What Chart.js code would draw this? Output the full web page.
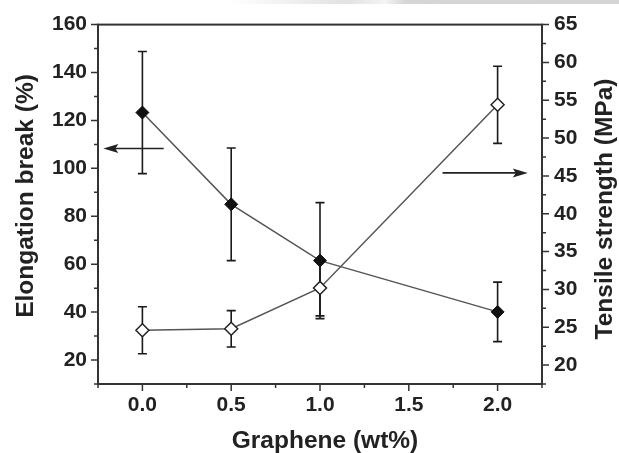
<!DOCTYPE html>
<html>
<head>
<meta charset="utf-8">
<script src="https://cdn.jsdelivr.net/npm/chart.js@4/dist/chart.umd.min.js"></script>
<style>
  body { margin: 0; background: #fff; }
  #wrap { position: relative; width: 619px; height: 453px; }
  #strip { position: absolute; left: 230px; top: 0; width: 389px; height: 4px;
           background: linear-gradient(to right, #fff 0%, #e2e2e2 30%, #f4f4f4 40%, #d6d6d6 45%, #d4d4d4 100%); }
</style>
</head>
<body>
<div id="wrap">
  <div id="strip"></div>
  <canvas id="mechChart"></canvas>
</div>
<script>
// graphene loading (wt%)
const grapheneContent = [0, 0.5, 1.0, 2.0];

// elongation at break (%), left axis
const elongation = [123.3, 85.0, 61.5, 40.1];
const elongationErr = [25.5, 23.5, 24.2, 12.4];

// tensile strength (MPa), right axis
const tensile = [24.6, 24.8, 30.2, 54.4];
const tensileErr = [3.1, 2.4, 3.7, 5.1];

// labelled ticks
const xTickLabels = [0, 0.5, 1.0, 1.5, 2.0];
const elongationTicks = [20, 40, 60, 80, 100, 120, 140, 160];
const tensileTicks = [20, 25, 30, 35, 40, 45, 50, 55, 60, 65];

const INK = '#222';
const FRAME = '#333';
const FAMILY = 'Liberation Sans, Arial, sans-serif';

// error bars drawn under the markers
const errorBarPlugin = {
    id: 'errorBars',
    beforeDatasetsDraw(chart) {
        const ctx = chart.ctx;
        const x = chart.scales.x;
        const sets = [
            { scale: chart.scales.yL, vals: elongation, errs: elongationErr },
            { scale: chart.scales.yR, vals: tensile, errs: tensileErr }
        ];
        ctx.save();
        ctx.strokeStyle = '#1a1a1a';
        ctx.lineWidth = 1.6;
        sets.forEach(s => {
            s.vals.forEach((v, i) => {
                const px = x.getPixelForValue(grapheneContent[i]);
                const top = s.scale.getPixelForValue(v + s.errs[i]);
                const bot = s.scale.getPixelForValue(v - s.errs[i]);
                ctx.beginPath();
                ctx.moveTo(px, top); ctx.lineTo(px, bot);
                ctx.moveTo(px - 4.5, top); ctx.lineTo(px + 4.5, top);
                ctx.moveTo(px - 4.5, bot); ctx.lineTo(px + 4.5, bot);
                ctx.stroke();
            });
        });
        ctx.restore();
    }
};

// frame, outward ticks, axis titles and the two pointer arrows
const framePlugin = {
    id: 'frame',
    afterDraw(chart) {
        const ctx = chart.ctx;
        const a = chart.chartArea;
        const { x, yL, yR } = chart.scales;
        ctx.save();
        ctx.strokeStyle = FRAME;
        ctx.lineWidth = 2;
        ctx.strokeRect(a.left, a.top, a.right - a.left, a.bottom - a.top);

        ctx.lineWidth = 1.5;
        ctx.beginPath();
        x.ticks.forEach(t => {
            const px = x.getPixelForValue(t.value);
            const len = xTickLabels.includes(t.value) ? 7 : 4;
            ctx.moveTo(px, a.bottom); ctx.lineTo(px, a.bottom + len);
        });
        yL.ticks.forEach(t => {
            const py = yL.getPixelForValue(t.value);
            const len = elongationTicks.includes(t.value) ? 7 : 4;
            ctx.moveTo(a.left, py); ctx.lineTo(a.left - len, py);
        });
        yR.ticks.forEach(t => {
            const py = yR.getPixelForValue(t.value);
            const len = tensileTicks.includes(t.value) ? 7 : 4;
            ctx.moveTo(a.right, py); ctx.lineTo(a.right + len, py);
        });
        ctx.stroke();

        drawArrow(ctx, x.getPixelForValue(0.12), x.getPixelForValue(-0.22), yL.getPixelForValue(108.3));
        drawArrow(ctx, x.getPixelForValue(1.69), x.getPixelForValue(2.17), yR.getPixelForValue(45.4));

        // both y titles read bottom-to-top in the original
        ctx.fillStyle = INK;
        ctx.font = 'bold 24.5px ' + FAMILY;
        ctx.textAlign = 'center';
        ctx.textBaseline = 'alphabetic';
        drawVerticalText(ctx, 'Elongation break (%)', 33, 196);
        drawVerticalText(ctx, 'Tensile strength (MPa)', 612, 209);
        ctx.fillText('Graphene (wt%)', 325, 448);
        ctx.restore();
    }
};

function drawVerticalText(ctx, text, x, y) {
    ctx.save();
    ctx.translate(x, y);
    ctx.rotate(-Math.PI / 2);
    ctx.fillText(text, 0, 0);
    ctx.restore();
}

function drawArrow(ctx, fromX, toX, y) {
    const dir = toX > fromX ? 1 : -1;
    ctx.strokeStyle = INK;
    ctx.fillStyle = INK;
    ctx.lineWidth = 1.6;
    ctx.beginPath();
    ctx.moveTo(fromX, y);
    ctx.lineTo(toX - dir * 10, y);
    ctx.stroke();
    ctx.beginPath();
    ctx.moveTo(toX, y);
    ctx.lineTo(toX - dir * 15, y - 4.5);
    ctx.lineTo(toX - dir * 12, y);
    ctx.lineTo(toX - dir * 15, y + 4.5);
    ctx.closePath();
    ctx.fill();
}

function renderMechanicalChart() {
    const ctx = document.getElementById('mechChart').getContext('2d');
    const tickFont = { family: FAMILY, size: 21, weight: 'bold' };
    new Chart(ctx, {
        type: 'line',
        data: {
            datasets: [{
                label: 'Elongation break',
                data: grapheneContent.map((g, i) => ({ x: g, y: elongation[i] })),
                yAxisID: 'yL',
                borderColor: '#555',
                borderWidth: 1.5,
                pointStyle: 'rectRot',
                pointRadius: 6.5,
                pointBackgroundColor: '#111',
                pointBorderColor: '#111',
                pointBorderWidth: 1
            }, {
                label: 'Tensile strength',
                data: grapheneContent.map((g, i) => ({ x: g, y: tensile[i] })),
                yAxisID: 'yR',
                borderColor: '#555',
                borderWidth: 1.5,
                pointStyle: 'rectRot',
                pointRadius: 6.5,
                pointBackgroundColor: '#fff',
                pointBorderColor: '#222',
                pointBorderWidth: 1.5
            }]
        },
        options: {
            responsive: true,
            maintainAspectRatio: false,
            animation: false,
            layout: { padding: { top: 24, left: 0, right: 0, bottom: 0 } },
            plugins: {
                legend: { display: false },
                tooltip: { enabled: false }
            },
            scales: {
                x: {
                    type: 'linear',
                    min: -0.25,
                    max: 2.25,
                    grid: { display: false, drawTicks: false },
                    border: { display: false },
                    afterFit: s => { s.height = 69; },
                    ticks: {
                        stepSize: 0.25,
                        autoSkip: false,
                        maxRotation: 0,
                        padding: 9,
                        color: INK,
                        font: tickFont,
                        callback: v => xTickLabels.includes(v) ? v.toFixed(1) : ''
                    }
                },
                yL: {
                    type: 'linear',
                    position: 'left',
                    min: 10,
                    max: 160,
                    grid: { display: false, drawTicks: false },
                    border: { display: false },
                    afterFit: s => { s.width = 98; },
                    ticks: {
                        stepSize: 10,
                        autoSkip: false,
                        padding: 11,
                        color: INK,
                        font: tickFont,
                        callback: v => elongationTicks.includes(v) ? v : ''
                    }
                },
                yR: {
                    type: 'linear',
                    position: 'right',
                    min: 17.5,
                    max: 65,
                    grid: { display: false, drawTicks: false },
                    border: { display: false },
                    afterFit: s => { s.width = 77; },
                    ticks: {
                        stepSize: 2.5,
                        autoSkip: false,
                        padding: 12,
                        color: INK,
                        font: tickFont,
                        callback: v => tensileTicks.includes(v) ? v : ''
                    }
                }
            }
        },
        plugins: [errorBarPlugin, framePlugin]
    });
}

renderMechanicalChart();
</script>
</body>
</html>
